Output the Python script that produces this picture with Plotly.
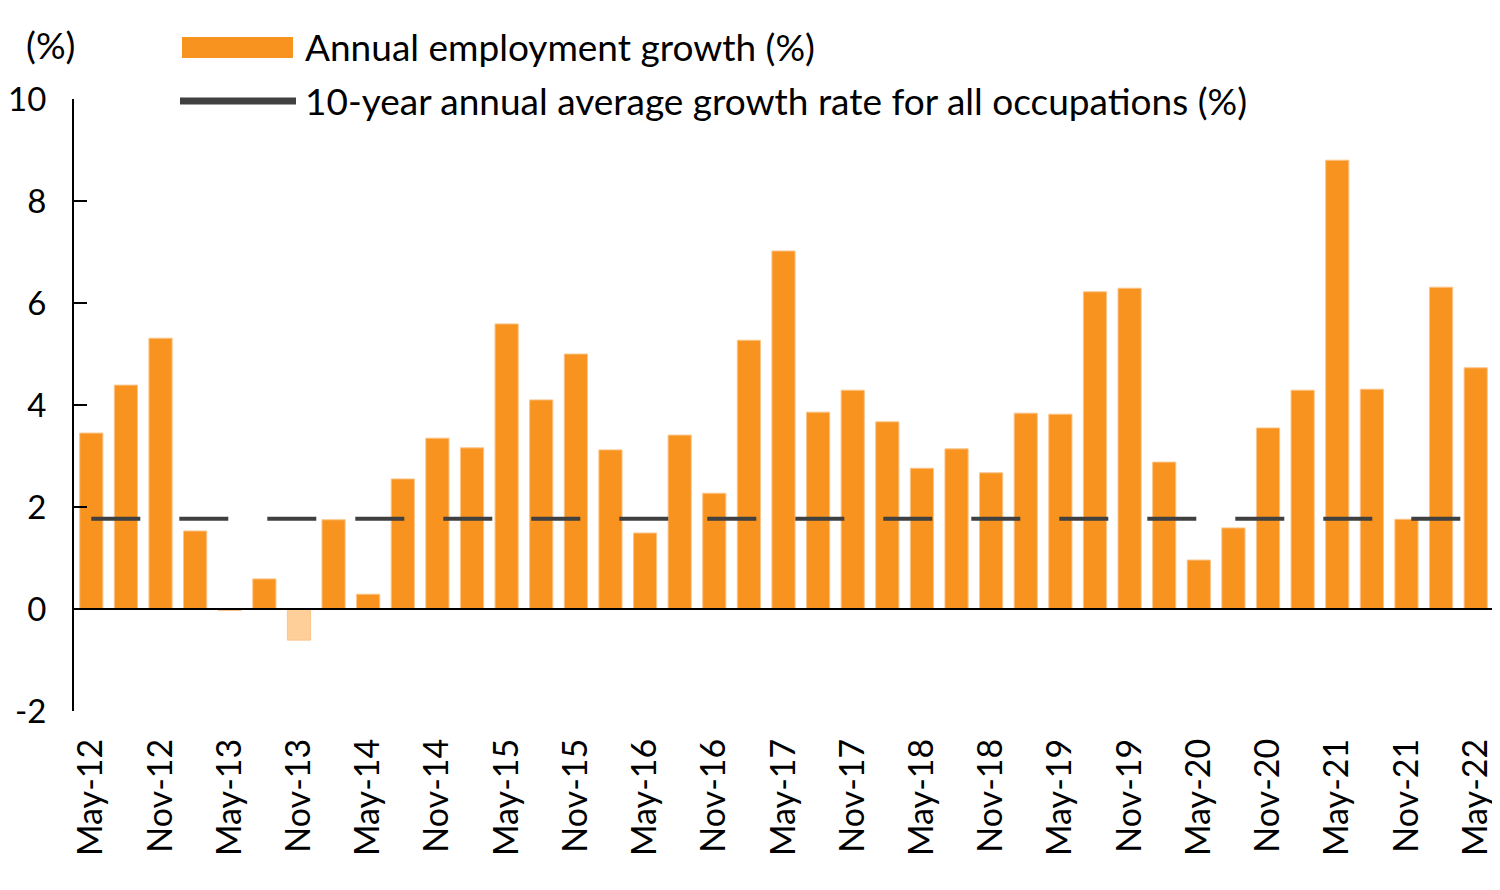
import plotly.graph_objects as go

categories = [
    "May-12", "Aug-12", "Nov-12", "Feb-13", "May-13", "Aug-13", "Nov-13", "Feb-14",
    "May-14", "Aug-14", "Nov-14", "Feb-15", "May-15", "Aug-15", "Nov-15", "Feb-16",
    "May-16", "Aug-16", "Nov-16", "Feb-17", "May-17", "Aug-17", "Nov-17", "Feb-18",
    "May-18", "Aug-18", "Nov-18", "Feb-19", "May-19", "Aug-19", "Nov-19", "Feb-20",
    "May-20", "Aug-20", "Nov-20", "Feb-21", "May-21", "Aug-21", "Nov-21", "Feb-22",
    "May-22",
]
employment_growth = [
    3.45, 4.39, 5.31, 1.53, -0.03, 0.59, -0.61, 1.75,
    0.29, 2.55, 3.35, 3.16, 5.59, 4.10, 5.00, 3.12,
    1.49, 3.41, 2.27, 5.27, 7.02, 3.86, 4.29, 3.67,
    2.76, 3.14, 2.67, 3.84, 3.82, 6.22, 6.29, 2.88,
    0.96, 1.59, 3.55, 4.29, 8.80, 4.31, 1.76, 6.31,
    4.73,
]
ten_year_average = [1.77] * len(categories)
tick_labels = categories[::2]
y_tick_values = [-2, 0, 2, 4, 6, 8, 10]
y_tick_labels = ["-2", "0", "2", "4", "6", "8", "10"]

series_names = ["Annual employment growth (%)",
                "10-year annual average growth rate for all occupations (%)"]

ORANGE = "#F7931E"
LIGHT = "#FECF99"
DARK = "#404040"
FONT = "Lato"

# page body has an 8px default margin; layout in screen pixels
OFF = 8
W, H = 1500 - OFF, 890 - OFF
X0, X1, Y0, Y1 = 74, 1493, 99, 711          # plot area on screen
ML, MT = X0 - OFF, Y0 - OFF
MR, MB = W - (X1 - OFF), H - (Y1 - OFF)
PW, PH = X1 - X0, Y1 - Y0


def px_x(p):
    return (p - X0) / PW


def px_y(p):
    return (Y1 - p) / PH


bar_colors = [ORANGE if v >= 0 else LIGHT for v in employment_growth]

fig = go.Figure()
fig.add_trace(go.Bar(
    x=categories, y=employment_growth, name=series_names[0],
    marker=dict(color=bar_colors, line=dict(color="#FBC58A", width=1)),
    showlegend=False,
))
fig.add_trace(go.Scatter(
    x=categories, y=ten_year_average, name=series_names[1], mode="lines",
    line=dict(color=DARK, width=4, dash="49px,39px"),
    showlegend=False,
))

# zero baseline drawn above bars
fig.add_shape(type="line", xref="paper", yref="y", x0=0, x1=1, y0=0, y1=0,
              line=dict(color="#000", width=2), layer="above")

# custom legend
fig.add_shape(type="rect", xref="paper", yref="paper",
              x0=px_x(182), x1=px_x(293), y0=px_y(58), y1=px_y(37),
              fillcolor=ORANGE, line=dict(width=0))
fig.add_shape(type="line", xref="paper", yref="paper",
              x0=px_x(180), x1=px_x(296), y0=px_y(101), y1=px_y(101),
              line=dict(color=DARK, width=7))
fig.add_annotation(xref="paper", yref="paper", x=px_x(303), y=px_y(46),
                   text=series_names[0], showarrow=False, xanchor="left",
                   yanchor="middle", font=dict(family=FONT, size=37, color="#000"))
fig.add_annotation(xref="paper", yref="paper", x=px_x(303), y=px_y(100),
                   text=series_names[1], showarrow=False, xanchor="left",
                   yanchor="middle", font=dict(family=FONT, size=37, color="#000"))
fig.add_annotation(xref="paper", yref="paper", x=px_x(50), y=px_y(44),
                   text="(%)", showarrow=False, xanchor="center",
                   yanchor="middle", font=dict(family=FONT, size=37, color="#000"))

fig.update_layout(
    width=W, height=H,
    margin=dict(l=ML, r=MR, t=MT, b=MB, autoexpand=False),
    paper_bgcolor="white", plot_bgcolor="white",
    bargap=0.33,
    font=dict(family=FONT, size=36, color="#000"),
    showlegend=False,
)
fig.update_xaxes(
    type="category", range=[-0.5, len(categories) - 0.5],
    tickmode="array", tickvals=tick_labels, ticktext=tick_labels,
    tickangle=-90, ticks="", showline=False, showgrid=False,
    ticklabelstandoff=20, tickfont=dict(family=FONT, size=34),
    automargin=False,
)
fig.update_yaxes(
    range=[-2, 10], tickmode="array", tickvals=y_tick_values, ticktext=y_tick_labels,
    ticks="inside", ticklen=13, tickwidth=2, tickcolor="#000",
    showline=True, linecolor="#000", linewidth=2,
    showgrid=False, zeroline=False,
    ticklabelstandoff=19, tickfont=dict(family=FONT, size=33),
    automargin=False,
)

fig.write_html("out.html")
